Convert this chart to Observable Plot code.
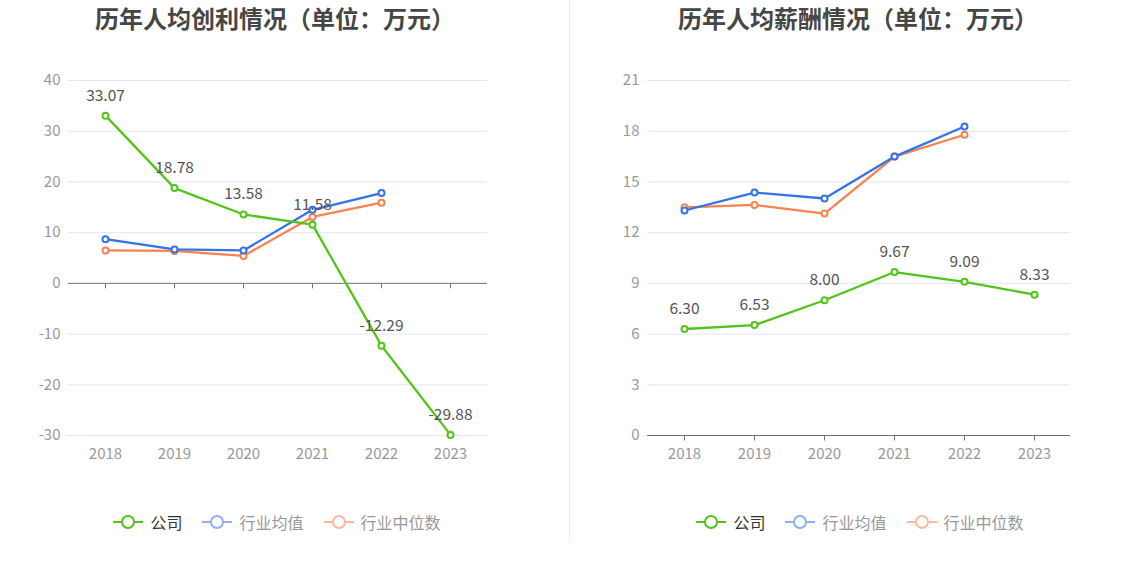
<!DOCTYPE html>
<html><head><meta charset="utf-8">
<script src="https://cdn.jsdelivr.net/npm/d3@7"></script>
<script src="https://cdn.jsdelivr.net/npm/@observablehq/plot@0.6"></script>
<style>
body{margin:0;background:#fff;font-family:"Noto Sans CJK SC","Noto Sans",sans-serif;}
#root{position:relative;width:1134px;height:582px;overflow:hidden;background:#fff;}
.title{position:absolute;top:1px;height:34px;line-height:34px;font-size:24px;font-weight:bold;color:#464646;text-align:center;}
.divider{position:absolute;left:569px;top:0;width:1px;height:542px;background:#ececec;}
.chart{position:absolute;top:50px;}
.legend{position:absolute;top:507px;height:30px;display:flex;justify-content:center;align-items:center;font-size:16px;color:#999;}
.item{display:flex;align-items:center;margin:0 10px;}
.item svg{margin-right:7px;}
</style>
</head><body>
<div id="root">
  <div class="title" style="left:0;width:550px;">历年人均创利情况（单位：万元）</div>
  <div class="title" style="left:569px;width:578px;">历年人均薪酬情况（单位：万元）</div>
  <div class="divider"></div>
  <div class="chart" id="c1" style="left:0;"></div>
  <div class="chart" id="c2" style="left:569px;"></div>
  <div class="legend" id="l1" style="left:0;width:554px;"></div>
  <div class="legend" id="l2" style="left:569px;width:582px;"></div>
</div>
<script>
const years = ["2018","2019","2020","2021","2022","2023"];
const seriesNames = ["公司","行业均值","行业中位数"];
// 人均创利
const profitCompany = [33.07, 18.78, 13.58, 11.58, -12.29, -29.88];
const profitAvg = [8.7, 6.7, 6.5, 14.5, 17.8, null];
const profitMedian = [6.5, 6.4, 5.4, 13.1, 15.9, null];
const profitTicks = [-30, -20, -10, 0, 10, 20, 30, 40];
// 人均薪酬
const salaryCompany = [6.30, 6.53, 8.00, 9.67, 9.09, 8.33];
const salaryAvg = [13.31, 14.37, 14.02, 16.5, 18.28, null];
const salaryMedian = [13.5, 13.64, 13.13, 16.5, 17.79, null];
const salaryTicks = [0, 3, 6, 9, 12, 15, 18, 21];

const colors = ["#52c41a", "#3572e6", "#fa8150"];
const legendColors = ["#52c41a", "#8fb0f5", "#fcb8a0"];

const toRows = (vals) => years.map((y, i) => ({year: y, value: vals[i]})).filter(d => d.value != null);

const tickSymbol = {draw(ctx) { ctx.moveTo(0, 0); ctx.lineTo(0, 5); }};

function makeChart(el, {company, avg, median, ticks, width, marginLeft, marginRight}) {
  const series = [median, avg, company].map(toRows);
  const seriesColors = [colors[2], colors[1], colors[0]];
  const marks = [
    Plot.ruleY(ticks.filter(t => t !== 0), {stroke: "#e0e6f1", strokeWidth: 1}),
    Plot.ruleY([0], {stroke: "#6e7079", strokeWidth: 1}),
    Plot.dot(years, {x: d => d, y: () => 0, symbol: tickSymbol, stroke: "#6e7079", fill: "none", strokeWidth: 1}),
    Plot.axisX({tickSize: 0, tickPadding: 13, fontSize: 15, fill: "#999"}),
    Plot.axisY({ticks, tickSize: 0, tickPadding: 8, fontSize: 15, fill: "#999", label: null, tickFormat: d => String(d)}),
  ];
  series.forEach((rows, k) => {
    marks.push(Plot.line(rows, {x: "year", y: "value", stroke: seriesColors[k], strokeWidth: 2.3}));
  });
  series.forEach((rows, k) => {
    marks.push(Plot.dot(rows, {x: "year", y: "value", r: 3, fill: "white", stroke: seriesColors[k], strokeWidth: 2}));
  });
  marks.push(Plot.text(series[2], {x: "year", y: "value", text: d => d.value.toFixed(2), dy: -20, fill: "#555", fontSize: 15.5}));
  const svg = Plot.plot({
    width, height: 430,
    marginLeft, marginRight, marginTop: 30, marginBottom: 45,
    style: {fontFamily: '"Noto Sans CJK SC","Noto Sans",sans-serif', fontSize: "15px", background: "transparent"},
    x: {type: "point", domain: years, padding: 0.52, label: null},
    y: {domain: [ticks[0], ticks[ticks.length - 1]], label: null},
    marks
  });
  el.appendChild(svg);
}

function makeLegend(el) {
  seriesNames.forEach((name, i) => {
    const item = document.createElement("div");
    item.className = "item";
    item.innerHTML = `<svg width="30" height="16"><line x1="0" x2="30" y1="8" y2="8" stroke="${legendColors[i]}" stroke-width="2"/><circle cx="15" cy="8" r="6" fill="white" stroke="${legendColors[i]}" stroke-width="2"/></svg><span style="color:${i === 0 ? '#333' : '#999'}">${name}</span>`;
    el.appendChild(item);
  });
}

makeChart(document.getElementById("c1"), {company: profitCompany, avg: profitAvg, median: profitMedian, ticks: profitTicks, width: 569, marginLeft: 68, marginRight: 82});
makeChart(document.getElementById("c2"), {company: salaryCompany, avg: salaryAvg, median: salaryMedian, ticks: salaryTicks, width: 565, marginLeft: 78, marginRight: 64});
makeLegend(document.getElementById("l1"));
makeLegend(document.getElementById("l2"));
</script>
</body></html>
